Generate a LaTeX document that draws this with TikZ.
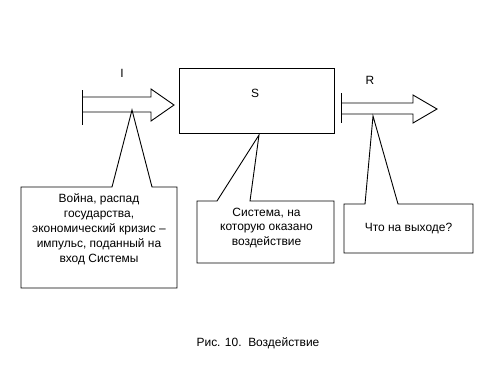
\documentclass[tikz,border=0pt]{standalone}
\usepackage{fontspec}
\setmainfont{Liberation Sans}
\usetikzlibrary{positioning, calc}

\begin{document}
\begin{tikzpicture}[x=1bp, y=-1bp, line width=0.9bp,
    font=\fontsize{12}{15}\selectfont,
    sbox/.style={draw, minimum width=155bp, minimum height=65bp, inner sep=0pt, outer sep=0pt},
    callframe/.style={inner sep=0pt, outer sep=0pt},
    calltext/.style={align=center, inner sep=0pt},
    lbl/.style={inner sep=0pt}]
  \useasboundingbox[fill=white] (0,0) rectangle (500,375);

  % Система
  \node[sbox] (sys) at (256.5,100.5) {};
  \node[lbl] (sLbl) at (255,93) {S};

  % Вход: блочная стрелка
  \draw (82,97) -- (151,97) -- (151,89) -- (174,105) -- (151,121) -- (151,112) -- (82,112);
  \draw (82,90) -- (82,125);
  \node[lbl] (inLbl) at (122,73) {I};
  \coordinate (inTip) at (132,110);

  % Выход: блочная стрелка
  \draw (341,103) -- (413,103) -- (413,95) -- (437,109) -- (413,123) -- (413,114) -- (341,114);
  \draw (341,93) -- (341,123);
  \node[lbl] (outLbl) at (370,80) {R};
  \coordinate (outTip) at (373,116);

  \coordinate (sysTip) at (259,135);

  % Выноски
  \node[callframe, minimum width=156bp, minimum height=101bp] (c1) at (99,237.5) {};
  \node[callframe, minimum width=137bp, minimum height=62bp] (c2) at (265.5,232) {};
  \node[callframe, minimum width=129bp, minimum height=49bp] (c3) at (408.5,228.5) {};

  \draw (c1.north west) -- ($(c1.north west)+(91,0)$) -- (inTip)
    -- ($(c1.north west)+(131,0)$) -- (c1.north east) -- (c1.south east)
    -- (c1.south west) -- cycle;
  \draw (c2.north west) -- ($(c2.north west)+(20,0)$) -- (sysTip)
    -- ($(c2.north west)+(53,0)$) -- (c2.north east) -- (c2.south east)
    -- (c2.south west) -- cycle;
  \draw (c3.north west) -- ($(c3.north west)+(21,0)$) -- (outTip)
    -- ($(c3.north west)+(54,0)$) -- (c3.north east) -- (c3.south east)
    -- (c3.south west) -- cycle;

  \node[calltext] (t1) at (99,229) {Война, распад\\государства,\\экономический кризис –\\импульс, поданный на\\вход Системы};
  \node[calltext] (t2) at (266.5,228) {Система, на\\которую оказано\\воздействие};
  \node[calltext] (t3) at (408.5,228.5) {Что на выходе?};

  % Подпись
  \node[lbl] (cap) at (258,343) {Рис. 10.\ \ Воздействие};
\end{tikzpicture}
\end{document}
